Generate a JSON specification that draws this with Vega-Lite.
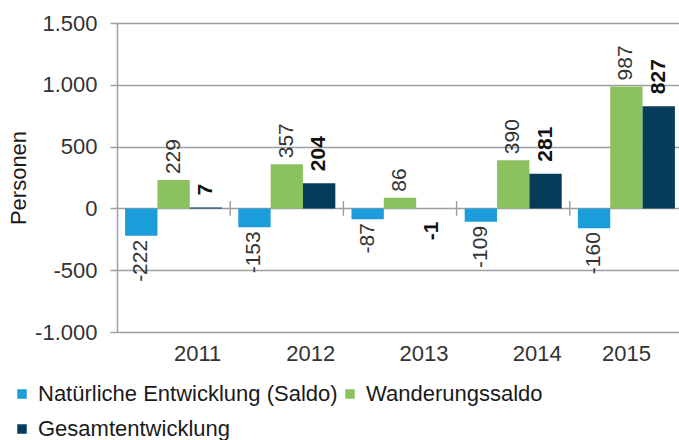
{
  "$schema": "https://vega.github.io/schema/vega-lite/v6.json",
  "width": 562,
  "height": 309,
  "autosize": {"type": "none"},
  "padding": {"left": 117, "top": 23, "right": 0, "bottom": 108},
  "config": {
    "locale": {"number": {"decimal": ",", "thousands": ".", "grouping": [3], "currency": ["", " €"], "minus": "-"}},
    "view": {"stroke": null},
    "font": "Liberation Sans"
  },
  "data": {
    "values": [
      {"year": "2011", "series": "Natürliche Entwicklung (Saldo)", "value": -222},
      {"year": "2011", "series": "Wanderungssaldo", "value": 229},
      {"year": "2011", "series": "Gesamtentwicklung", "value": 7},
      {"year": "2012", "series": "Natürliche Entwicklung (Saldo)", "value": -153},
      {"year": "2012", "series": "Wanderungssaldo", "value": 357},
      {"year": "2012", "series": "Gesamtentwicklung", "value": 204},
      {"year": "2013", "series": "Natürliche Entwicklung (Saldo)", "value": -87},
      {"year": "2013", "series": "Wanderungssaldo", "value": 86},
      {"year": "2013", "series": "Gesamtentwicklung", "value": -1},
      {"year": "2014", "series": "Natürliche Entwicklung (Saldo)", "value": -109},
      {"year": "2014", "series": "Wanderungssaldo", "value": 390},
      {"year": "2014", "series": "Gesamtentwicklung", "value": 281},
      {"year": "2015", "series": "Natürliche Entwicklung (Saldo)", "value": -160},
      {"year": "2015", "series": "Wanderungssaldo", "value": 987},
      {"year": "2015", "series": "Gesamtentwicklung", "value": 827}
    ]
  },
  "layer": [
    {
      "mark": {"type": "bar"},
      "encoding": {
        "x": {
          "field": "year", "type": "nominal",
          "scale": {"range": [0, 566], "paddingInner": 0, "paddingOuter": 0},
          "axis": {
            "title": null, "labelAngle": 0, "ticks": false, "domain": false,
            "labelFontSize": 22, "labelColor": "#333333", "labelPadding": 11,
            "labelOffset": {"condition": {"test": "datum.value === '2015'", "value": 0}, "value": 24}
          }
        },
        "xOffset": {
          "field": "series", "type": "nominal",
          "sort": ["Natürliche Entwicklung (Saldo)", "Wanderungssaldo", "Gesamtentwicklung"],
          "scale": {"paddingInner": 0, "paddingOuter": 0.25}
        },
        "y": {
          "field": "value", "type": "quantitative",
          "scale": {"domain": [-1000, 1500], "nice": false},
          "axis": {
            "title": "Personen", "values": [-1000, -500, 0, 500, 1000, 1500], "format": ",d",
            "grid": true, "gridColor": "#9f9f9f", "gridWidth": 1.5,
            "domainColor": "#9f9f9f", "domainWidth": 1.5,
            "tickColor": "#9f9f9f", "tickWidth": 1.5, "tickSize": 7,
            "labelFontSize": 22, "labelColor": "#333333", "labelPadding": 13,
            "titleFontSize": 22, "titleFontWeight": "normal", "titleColor": "#1a1a1a",
            "titleX": -92, "titleY": 154.5, "titleAngle": 270, "titleAlign": "center", "titleBaseline": "alphabetic"
          }
        },
        "color": {
          "field": "series", "type": "nominal",
          "scale": {
            "domain": ["Natürliche Entwicklung (Saldo)", "Wanderungssaldo", "Gesamtentwicklung"],
            "range": ["#1b9dd9", "#8cc160", "#063c5a"]
          },
          "legend": {
            "title": null, "orient": "none", "legendX": -106, "legendY": 360, "padding": 0,
            "direction": "horizontal", "columns": 2,
            "symbolType": "square", "symbolSize": 90, "symbolStrokeWidth": 0,
            "labelFontSize": 22, "labelColor": "#1a1a1a", "labelOffset": 5, "labelLimit": 0,
            "columnPadding": 1, "rowPadding": 13
          }
        }
      }
    },
    {
      "transform": [{"filter": "datum.series !== 'Gesamtentwicklung'"}],
      "mark": {
        "type": "text", "angle": 270, "baseline": "middle", "fontSize": 21, "color": "#333333",
        "align": {"expr": "datum.value >= 0 ? 'left' : 'right'"},
        "dx": {"expr": "datum.value >= 0 ? 6 : -4"}
      },
      "encoding": {
        "x": {"field": "year", "type": "nominal"},
        "xOffset": {"field": "series", "type": "nominal", "sort": ["Natürliche Entwicklung (Saldo)", "Wanderungssaldo", "Gesamtentwicklung"]},
        "y": {"field": "value", "type": "quantitative"},
        "text": {"field": "value", "type": "quantitative", "format": "d"}
      }
    },
    {
      "transform": [{"filter": "datum.series === 'Gesamtentwicklung'"}],
      "mark": {
        "type": "text", "angle": 270, "baseline": "middle", "fontSize": 21, "fontWeight": "bold", "color": "#111111",
        "align": {"expr": "datum.value >= 0 ? 'left' : 'right'"},
        "dx": {"expr": "datum.value >= 0 ? 12 : -13"}
      },
      "encoding": {
        "x": {"field": "year", "type": "nominal"},
        "xOffset": {"field": "series", "type": "nominal", "sort": ["Natürliche Entwicklung (Saldo)", "Wanderungssaldo", "Gesamtentwicklung"]},
        "y": {"field": "value", "type": "quantitative"},
        "text": {"field": "value", "type": "quantitative", "format": "d"}
      }
    },
    {
      "data": {"values": [{"year": "2011"}, {"year": "2012"}, {"year": "2013"}, {"year": "2014"}]},
      "mark": {"type": "rule", "color": "#9f9f9f", "strokeWidth": 1.5},
      "encoding": {
        "x": {"field": "year", "type": "nominal", "bandPosition": 1},
        "y": {"datum": -60},
        "y2": {"datum": 60}
      }
    }
  ]
}
